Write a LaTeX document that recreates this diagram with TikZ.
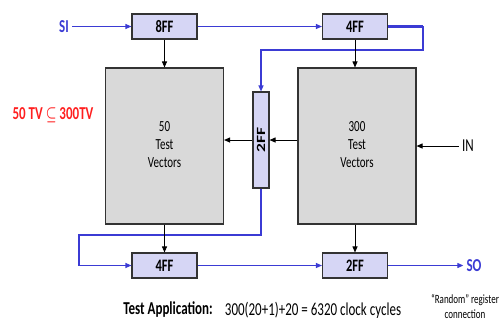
\documentclass[tikz,border=0pt]{standalone}
\usepackage{amsmath,amssymb}
\usepackage{fontspec}
\setmainfont{Carlito}
\usepackage{graphicx}
\usetikzlibrary{arrows.meta,positioning,calc}

\definecolor{ffblue}{HTML}{D6D6F5}
\definecolor{tvgray}{HTML}{D9D9D9}
\definecolor{scan}{HTML}{3B3BD4}
\definecolor{tvred}{HTML}{FF1F1F}

% glyphs in this sheet are set tall and narrow
\newcommand{\tall}[1]{\scalebox{1}[1.4]{#1}}

\begin{document}
\begin{tikzpicture}[
  x=1pt, y=-1pt,
  font=\fontsize{13}{15}\selectfont,
  >={Triangle[length=6pt,width=5pt]},
  ff/.style={draw=black!80, line width=1.1pt, fill=ffblue, inner sep=0pt,
             minimum width=65pt, minimum height=25pt,
             font=\fontsize{12.5}{14}\selectfont\bfseries},
  tv/.style={draw=black!80, line width=1.1pt, fill=tvgray, align=center,
             minimum width=118pt, minimum height=156pt,
             font=\fontsize{11}{13}\selectfont},
  scanarr/.style={->, draw=scan, color=scan, line width=1.1pt},
  dataarr/.style={->, line width=0.9pt},
  io/.style={inner sep=3pt}
]
\path[use as bounding box] (0,0) rectangle (503,325);

% Scan flip-flops
\node[ff] (ff8) at (164.5,26.5) {\tall{8FF}};
\node[ff] (ff4a) at (355,26.5) {\tall{4FF}};
\node[ff, minimum width=16pt, minimum height=96pt] (ff2v) at (261,140)
  {\tall{\rotatebox{90}{2FF}}};
\node[ff] (ff4b) at (164.5,265.5) {\tall{4FF}};
\node[ff] (ff2b) at (355,265.5) {\tall{2FF}};

% Test vector blocks
\node[tv] (tv50) at (164.5,146)
  {\tall{\begin{tabular}{@{}c@{}}50\\Test\\Vectors\end{tabular}}};
\node[tv] (tv300) at (357,146)
  {\tall{\begin{tabular}{@{}c@{}}300\\Test\\Vectors\end{tabular}}};

% Ports and notes
\node[io, text=scan, font=\fontsize{13}{15}\selectfont\bfseries] (si) at (64,26.5) {\tall{SI}};
\node[io, text=scan, font=\fontsize{13}{15}\selectfont\bfseries] (so) at (474,265.5) {\tall{SO}};
\node[io] (in) at (468,146) {\tall{IN}};
\node[text=tvred, font=\fontsize{13}{15}\selectfont\bfseries] (subset) at (53,115)
  {\tall{50 TV {\boldmath$\subseteq$} 300TV}};
\node[font=\fontsize{13}{15}\selectfont\bfseries] (tapp) at (168,310) {\tall{Test Application:}};
\node (cycles) at (313,310) {\tall{300(20+1)+20 = 6320 clock cycles}};
\node[font=\fontsize{9}{11}\selectfont] (rnd) at (465,308)
  {\tall{\begin{tabular}{@{}c@{}}“Random” register\\connection\end{tabular}}};

% Scan chain
\coordinate (loopR) at (423,50);
\coordinate (loopL) at (79,235);
\draw[scanarr] (si) -- (ff8);
\draw[scanarr] (ff8) -- (ff4a);
\draw[scanarr] (ff4a.east) -| (loopR) -| (ff2v.north);
\draw[scan, line width=2.2pt] (ff4a.east) -- (loopR |- ff4a);
\draw[scanarr] (ff2v.south) |- (loopL) |- (ff4b.west);
\draw[scanarr] (ff4b) -- (ff2b);
\draw[scanarr] (ff2b) -- (so);

% Data paths
\draw[dataarr] (ff8) -- (tv50);
\draw[dataarr] (ff4a) -- (ff4a |- tv300.north);
\draw[dataarr] (tv300.west |- ff2v) -- (ff2v.east);
\draw[dataarr] (ff2v.west) -- (ff2v.west -| tv50.east);
\draw[dataarr] (in) -- (tv300.east);
\draw[dataarr] (tv50) -- (ff4b);
\draw[dataarr] (ff2b |- tv300.south) -- (ff2b);
\end{tikzpicture}
\end{document}
